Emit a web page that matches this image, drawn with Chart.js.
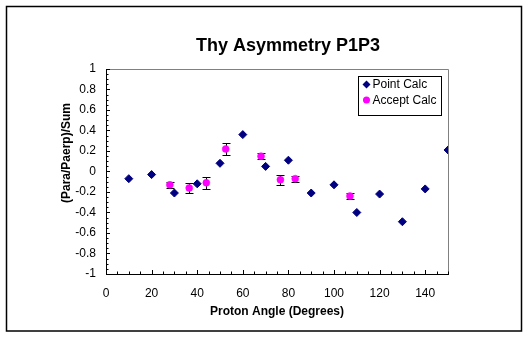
<!DOCTYPE html>
<html>
<head>
<meta charset="utf-8">
<script src="https://cdn.jsdelivr.net/npm/chart.js@4.4.0/dist/chart.umd.min.js"></script>
<style>
    html, body { margin: 0; padding: 0; background: #fff; }
    #wrap { width: 529px; height: 338px; position: relative; }
</style>
</head>
<body>
<div id="wrap"><canvas id="asymChart" width="529" height="338"></canvas></div>
<script>
const chartTitle = 'Thy Asymmetry P1P3';
const xAxisTitle = 'Proton Angle (Degrees)';
const yAxisTitle = '(Para/Paerp)/Sum';

const xTicks = [0, 20, 40, 60, 80, 100, 120, 140];
const yTicks = [-1, -0.8, -0.6, -0.4, -0.2, 0, 0.2, 0.4, 0.6, 0.8, 1];

// Point Calc (navy diamonds)
const pointAngles = [10, 20, 30, 40, 50, 60, 70, 80, 90, 100, 110, 120, 130, 140, 150];
const pointValues = [-0.07, -0.03, -0.21, -0.12, 0.08, 0.36, 0.05, 0.11, -0.21, -0.13, -0.40, -0.22, -0.49, -0.17, 0.21];

// Accept Calc (magenta circles, with error bars)
const acceptAngles = [28, 36.5, 44, 52.5, 68, 76.5, 83, 107];
const acceptValues = [-0.13, -0.16, -0.11, 0.22, 0.15, -0.08, -0.07, -0.24];
const acceptErrors = [0.03, 0.05, 0.06, 0.055, 0.03, 0.05, 0.03, 0.03];

const FONT = '"Liberation Sans", Arial, sans-serif';

function toPoints(xs, ys) {
    return xs.map((x, i) => ({ x: x, y: ys[i] }));
}

// white background + outer chart frame
const framePlugin = {
    id: 'frame',
    beforeDraw(chart) {
        const ctx = chart.ctx;
        ctx.save();
        ctx.fillStyle = '#fff';
        ctx.fillRect(0, 0, chart.width, chart.height);
        ctx.strokeStyle = '#000';
        ctx.lineWidth = 1.5;
        ctx.strokeRect(6.5, 6.5, 515, 324.5);
        ctx.restore();
    }
};

// grey top/right plot border and the little inside ticks
const plotBorderPlugin = {
    id: 'plotBorder',
    beforeDatasetsDraw(chart) {
        const ctx = chart.ctx;
        const a = chart.chartArea;
        const xs = chart.scales.x;
        const ys = chart.scales.y;
        ctx.save();
        ctx.strokeStyle = '#808080';
        ctx.lineWidth = 1;
        ctx.beginPath();
        ctx.moveTo(Math.round(a.left), Math.round(a.top) + 0.5);
        ctx.lineTo(Math.round(a.right) + 0.5, Math.round(a.top) + 0.5);
        ctx.lineTo(Math.round(a.right) + 0.5, Math.round(a.bottom));
        ctx.stroke();

        ctx.strokeStyle = '#000';
        ctx.beginPath();
        for (let v = -1; v <= 1.0001; v += 0.05) {
            const py = Math.round(ys.getPixelForValue(v)) + 0.5;
            const major = Math.abs(v * 5 - Math.round(v * 5)) < 1e-6;
            ctx.moveTo(Math.round(a.left), py);
            ctx.lineTo(Math.round(a.left) + (major ? 4 : 2.5), py);
        }
        for (let v = 0; v <= 150; v += 5) {
            const px = Math.round(xs.getPixelForValue(v)) + 0.5;
            const major = v % 20 === 0;
            ctx.moveTo(px, Math.round(a.bottom));
            ctx.lineTo(px, Math.round(a.bottom) - (major ? 4 : 2.5));
        }
        ctx.stroke();
        ctx.restore();
    }
};

const errorBarPlugin = {
    id: 'errorBars',
    beforeDatasetsDraw(chart) {
        const ctx = chart.ctx;
        const xs = chart.scales.x;
        const ys = chart.scales.y;
        ctx.save();
        ctx.strokeStyle = '#000';
        ctx.lineWidth = 1;
        ctx.beginPath();
        acceptAngles.forEach((ang, i) => {
            const px = Math.round(xs.getPixelForValue(ang)) + 0.5;
            const top = Math.round(ys.getPixelForValue(acceptValues[i] + acceptErrors[i])) + 0.5;
            const bot = Math.round(ys.getPixelForValue(acceptValues[i] - acceptErrors[i])) + 0.5;
            ctx.moveTo(px, top);
            ctx.lineTo(px, bot);
            ctx.moveTo(px - 4, top);
            ctx.lineTo(px + 4, top);
            ctx.moveTo(px - 4, bot);
            ctx.lineTo(px + 4, bot);
        });
        ctx.stroke();
        ctx.restore();
    }
};

const titleLegendPlugin = {
    id: 'titleLegend',
    afterDraw(chart) {
        const ctx = chart.ctx;
        const a = chart.chartArea;
        ctx.save();
        ctx.fillStyle = '#000';
        ctx.font = 'bold 18px ' + FONT;
        ctx.textAlign = 'center';
        ctx.textBaseline = 'middle';
        ctx.fillText(chartTitle, 288, 46);

        // y axis title, sits a bit above the plot middle like the original
        ctx.save();
        ctx.translate(67, 153);
        ctx.rotate(-Math.PI / 2);
        ctx.font = 'bold 12px ' + FONT;
        ctx.fillText(yAxisTitle, 0, 0);
        ctx.restore();

        // legend box
        const bx = Math.round(a.right) - 89.5;
        const by = Math.round(a.top) + 7.5;
        ctx.fillStyle = '#fff';
        ctx.fillRect(bx, by, 83, 39);
        ctx.strokeStyle = '#000';
        ctx.lineWidth = 1;
        ctx.strokeRect(bx, by, 83, 39);

        ctx.font = '12px ' + FONT;
        ctx.textAlign = 'left';
        chart.data.datasets.forEach((ds, i) => {
            const cy = by + 8 + i * 15.5;
            const cx = bx + 8;
            ctx.fillStyle = ds.backgroundColor;
            ctx.beginPath();
            if (ds.pointStyle === 'rectRot') {
                ctx.moveTo(cx - 4, cy);
                ctx.lineTo(cx, cy - 4);
                ctx.lineTo(cx + 4, cy);
                ctx.lineTo(cx, cy + 4);
                ctx.closePath();
            } else {
                ctx.arc(cx, cy, 3.5, 0, Math.PI * 2);
            }
            ctx.fill();
            ctx.fillStyle = '#000';
            ctx.fillText(ds.label, cx + 6, cy + 0.5);
        });
        ctx.restore();
    }
};

const ctx = document.getElementById('asymChart').getContext('2d');
const asymChart = new Chart(ctx, {
    type: 'scatter',
    data: {
        datasets: [
            {
                label: 'Point Calc',
                data: toPoints(pointAngles, pointValues),
                backgroundColor: '#000080',
                borderColor: '#000080',
                borderWidth: 1,
                pointStyle: 'rectRot',
                pointRadius: 4,
                pointHoverRadius: 4
            },
            {
                label: 'Accept Calc',
                data: toPoints(acceptAngles, acceptValues),
                backgroundColor: '#FF00FF',
                borderColor: '#FF00FF',
                borderWidth: 0.5,
                pointStyle: 'circle',
                pointRadius: 3.5,
                pointHoverRadius: 3.5
            }
        ]
    },
    options: {
        responsive: false,
        animation: false,
        layout: { padding: { top: 69, right: 81, bottom: 0, left: 0 } },
        plugins: {
            legend: { display: false },
            title: { display: false },
            tooltip: { enabled: false }
        },
        scales: {
            x: {
                type: 'linear',
                min: 0,
                max: 150,
                grid: { display: false, drawTicks: false },
                border: { display: true, color: '#000', width: 1 },
                ticks: {
                    color: '#000',
                    font: { family: FONT, size: 12 },
                    padding: 12,
                    maxRotation: 0,
                    autoSkip: false
                },
                afterBuildTicks: scale => { scale.ticks = xTicks.map(v => ({ value: v })); },
                afterFit: scale => { scale.height = 64; },
                title: {
                    display: true,
                    text: xAxisTitle,
                    color: '#000',
                    font: { family: FONT, size: 12, weight: 'bold' },
                    padding: { top: 0, bottom: 19 }
                }
            },
            y: {
                type: 'linear',
                min: -1,
                max: 1,
                grid: { display: false, drawTicks: false },
                border: { display: true, color: '#000', width: 1 },
                ticks: {
                    color: '#000',
                    font: { family: FONT, size: 12 },
                    padding: 10,
                    callback: v => String(Math.round(v * 10) / 10)
                },
                afterBuildTicks: scale => { scale.ticks = yTicks.map(v => ({ value: v })); },
                afterFit: scale => { scale.width = 106; },
                title: { display: false }
            }
        }
    },
    plugins: [framePlugin, plotBorderPlugin, errorBarPlugin, titleLegendPlugin]
});
</script>
</body>
</html>
